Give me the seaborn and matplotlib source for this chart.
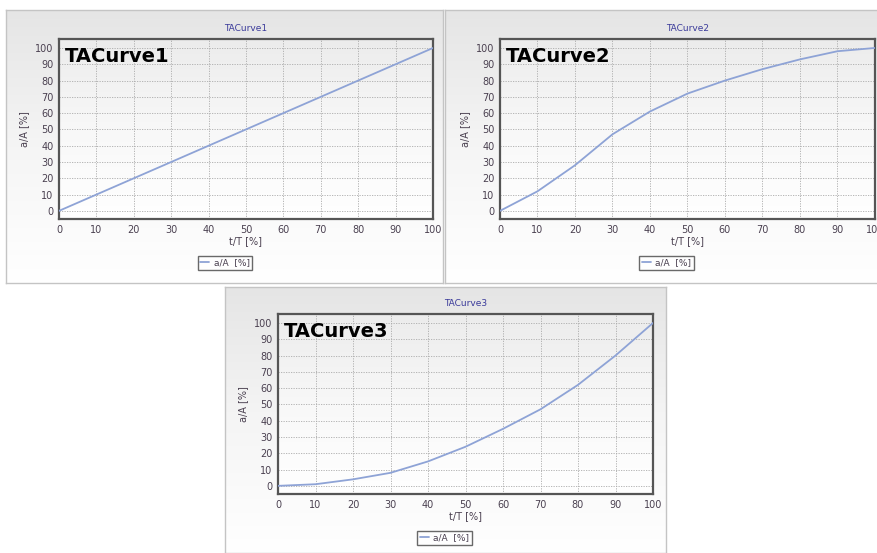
import numpy as np
import pandas as pd
import matplotlib
matplotlib.use("Agg")
import matplotlib.pyplot as plt
import seaborn as sns
from matplotlib.ticker import MultipleLocator

# data
t_pct = [0, 10, 20, 30, 40, 50, 60, 70, 80, 90, 100]
curve1 = [0, 10, 20, 30, 40, 50, 60, 70, 80, 90, 100]
curve2 = [0, 12, 28, 47, 61, 72, 80, 87, 93, 98, 100]
curve3 = [0, 1, 4, 8, 15, 24, 35, 47, 62, 80, 100]
names = ["TACurve1", "TACurve2", "TACurve3"]
y_ticks = list(range(0, 101, 10))

sns.set_style("white")
plt.rcParams["font.family"] = ["DejaVu Sans"]

W, H = 878, 553
fig = plt.figure(figsize=(W / 100, H / 100), dpi=100)


def rect(x0, y0, x1, y1):
    return [x0 / W, 1 - y1 / H, (x1 - x0) / W, (y1 - y0) / H]


grad = np.linspace(0, 1, 256).reshape(-1, 1)
panel_cmap = matplotlib.colors.LinearSegmentedColormap.from_list(
    "pan", ["#e5e5e5", "#f5f5f5", "#ffffff"])
inner_cmap = matplotlib.colors.LinearSegmentedColormap.from_list(
    "inn", ["#ececec", "#f8f8f8", "#ffffff"])

panels = [(6, 10, 443, 283), (445, 10, 878, 283), (225, 287, 666, 553)]
axes_boxes = [(59, 39, 433, 219), (500, 39, 875, 219), (278, 314, 653, 494)]
series = [curve1, curve2, curve3]

for pbox, abox, vals, name in zip(panels, axes_boxes, series, names):
    # panel background with gradient
    bg = fig.add_axes(rect(*pbox), zorder=0)
    bg.imshow(grad, cmap=panel_cmap, aspect="auto", extent=[0, 1, 0, 1], origin="upper")
    bg.set_xticks([])
    bg.set_yticks([])
    for s in bg.spines.values():
        s.set_color("#c4c4c4")
        s.set_linewidth(1.0)

    ax = fig.add_axes(rect(*abox), zorder=1)
    ax.imshow(grad, cmap=inner_cmap, aspect="auto",
              extent=[0, 100, -5, 105.5], origin="upper", zorder=0)
    df = pd.DataFrame({"t": t_pct, "a": vals})
    sns.lineplot(data=df, x="t", y="a", ax=ax, color="#8ea3d6", linewidth=1.3,
                 label="a/A  [%]", zorder=3)
    ax.set_xlim(0, 100)
    ax.set_ylim(-5, 105.5)
    ax.set_xticks(t_pct)
    ax.set_yticks(y_ticks)
    ax.xaxis.set_minor_locator(MultipleLocator(2))
    ax.yaxis.set_minor_locator(MultipleLocator(2))
    ax.tick_params(which="major", direction="in", length=3, color="#666666",
                   labelsize=7, labelcolor="#4a4050", pad=4)
    ax.tick_params(which="minor", direction="in", length=1.5, color="#888888")
    ax.grid(True, which="major", color="#ababab", linestyle=(0, (1.5, 1.5)),
            linewidth=0.6, zorder=1)
    for s in ax.spines.values():
        s.set_color("#555555")
        s.set_linewidth(1.6)
    ax.set_xlabel("t/T [%]", fontsize=7, color="#4a4050", labelpad=1)
    ax.set_ylabel("a/A [%]", fontsize=7, color="#4a4050", labelpad=4)
    ax.set_title(name, fontsize=6.5, color="#3a3a9a", pad=6)
    ax.text(0.016, 0.955, name, transform=ax.transAxes, fontsize=14,
            fontweight="bold", color="black", va="top", ha="left", zorder=4)
    leg = ax.legend(loc="center", bbox_to_anchor=(0.444, -0.245), fontsize=6.5,
                    frameon=True, fancybox=False, handlelength=1.0,
                    borderpad=0.25, handletextpad=0.5)
    leg.get_frame().set_edgecolor("#444444")
    leg.get_frame().set_linewidth(1.0)
    leg.get_frame().set_facecolor("white")
    for t in leg.get_texts():
        t.set_color("#4a4050")

fig.savefig("out.png", dpi=100)
